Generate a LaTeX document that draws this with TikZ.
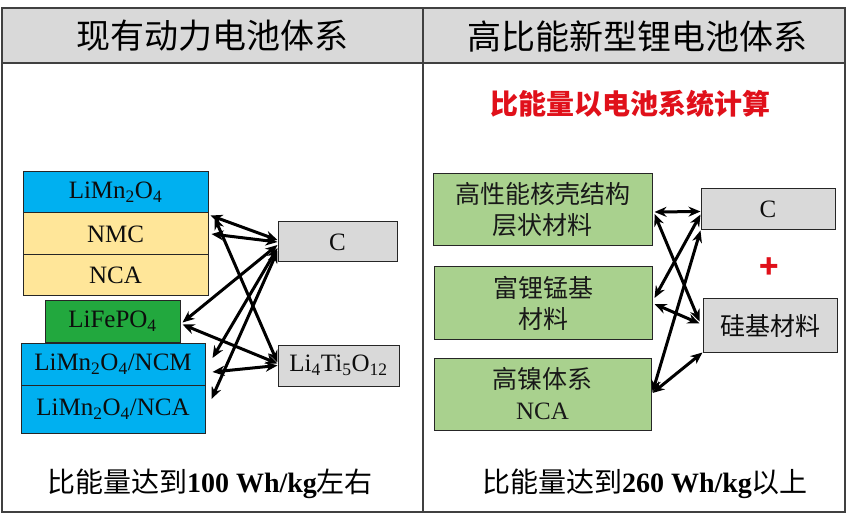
\documentclass[tikz,border=0pt]{standalone}
\usepackage{fontspec}
\setmainfont{Liberation Serif}
\newfontfamily\cjk{Noto Sans CJK SC}
\usetikzlibrary{arrows.meta,calc}
\definecolor{hdrgray}{HTML}{D9D9D9}
\definecolor{boxgray}{HTML}{D9D9D9}
\definecolor{lblue}{HTML}{00B0F0}
\definecolor{lyellow}{HTML}{FFE699}
\definecolor{dgreen}{HTML}{22A83E}
\definecolor{lgreen}{HTML}{A9D18E}
\definecolor{framec}{HTML}{404040}
\definecolor{redc}{HTML}{E0101A}
\newcommand{\sbs}[1]{\textsubscript{#1}}
\begin{document}
\begin{tikzpicture}[x=1pt,y=-1pt,
  mbox/.style={draw=black!85,line width=1pt,inner sep=0pt,
    font=\fontsize{25}{27}\selectfont,text=black!95},
  gbox/.style={mbox,fill=boxgray},
  cbox/.style={draw=black!85,line width=1pt,inner sep=0pt,fill=lgreen,
    align=center,font=\cjk\fontsize{25}{31}\selectfont,text=black!90},
  arr/.style={{Stealth[length=12pt,width=10pt]}-{Stealth[length=12pt,width=10pt]},line width=3pt},
  hdr/.style={font=\cjk\fontsize{34}{36}\selectfont},
  foot/.style={font=\fontsize{28}{30}\selectfont}]
\useasboundingbox (0,0) rectangle (848,518);
% frame and header
\fill[hdrgray] (2,8) rectangle (845,63);
\draw[framec,line width=1.5pt] (2,8) rectangle (845,512);
\draw[framec,line width=1.5pt] (2,63) -- (845,63);
\draw[framec,line width=1.5pt] (423,8) -- (423,512);
\node[hdr] (h1) at (212,36) {现有动力电池体系};
\node[hdr] (h2) at (637,36) {高比能新型锂电池体系};
% left boxes
\node[mbox,fill=lblue,minimum width=185pt,minimum height=41pt] (lmo) at (115.5,192.5) {LiMn\sbs{2}O\sbs{4}};
\node[mbox,fill=lyellow,minimum width=185pt,minimum height=42pt] (nmc) at (115.5,234) {NMC};
\node[mbox,fill=lyellow,minimum width=185pt,minimum height=41pt] (nca) at (115.5,275.5) {NCA};
\node[mbox,fill=dgreen,minimum width=135pt,minimum height=41pt] (lfp) at (112.5,321.5) {LiFePO\sbs{4}};
\node[mbox,fill=lblue,minimum width=184pt,minimum height=42pt] (ncm) at (113,364) {LiMn\sbs{2}O\sbs{4}/NCM};
\node[mbox,fill=lblue,minimum width=184pt,minimum height=48pt] (lnca) at (113,409) {LiMn\sbs{2}O\sbs{4}/NCA};
\node[gbox,minimum width=119pt,minimum height=40pt] (c1) at (337.5,242) {C};
\node[gbox,minimum width=121pt,minimum height=41pt] (lto) at (338.5,365.5) {Li\sbs{4}Ti\sbs{5}O\sbs{12}};
% left arrows
\draw[arr] ([xshift=2pt,yshift=-2pt]lmo.south east) -- ([yshift=2pt]c1.west);
\draw[arr] ([xshift=3pt,yshift=0pt]nmc.east) -- ([yshift=0pt]c1.west);
\draw[arr] ([xshift=2pt,yshift=-1pt]lfp.east) -- ([yshift=-3pt]c1.west);
\draw[arr] ([xshift=7pt,yshift=6pt]ncm.east) -- ([yshift=-6pt]c1.west);
\draw[arr] ([xshift=6pt,yshift=10pt]lnca.east) -- ([yshift=-9pt]c1.west);
\draw[arr] ([xshift=6pt,yshift=-4pt]lmo.south east) -- ([yshift=3pt]lto.west);
\draw[arr] ([xshift=2pt,yshift=-3pt]lfp.east) -- ([yshift=2pt]lto.west);
\draw[arr] ([xshift=7pt,yshift=-8pt]ncm.east) -- ([yshift=0pt]lto.west);
% right side
\node[font=\cjk\bfseries\fontsize{28}{30}\selectfont,text=redc] (title) at (630,104) {比能量以电池系统计算};
\node[cbox,minimum width=219pt,minimum height=72pt] (b1) at (542.5,210) {高性能核壳结构\\层状材料};
\node[cbox,minimum width=218pt,minimum height=72pt] (b2) at (543,303) {富锂锰基\\材料};
\node[cbox,minimum width=217pt,minimum height=72pt] (b3) at (542.5,394) {高镍体系\\{\rmfamily NCA}};
\node[gbox,minimum width=134pt,minimum height=41pt] (c2) at (768,209.5) {C};
\node[gbox,minimum width=134pt,minimum height=53pt,font=\cjk\fontsize{25}{27}\selectfont] (si) at (770,325.5) {硅基材料};
\node[font=\cjk\bfseries\fontsize{32}{32}\selectfont,text=redc] (plus) at (769,268) {+};
% right arrows
\draw[arr] ([xshift=2pt,yshift=-2pt]b1.east) -- ([yshift=-2pt]c2.west);
\draw[arr] ([xshift=2pt,yshift=-4pt]b1.east) -- ([xshift=-3pt,yshift=4pt]si.west);
\draw[arr] ([xshift=2pt,yshift=5pt]b2.east) -- ([yshift=-5pt]c2.west);
\draw[arr] ([xshift=2pt,yshift=-1pt]b2.east) -- ([xshift=-3pt,yshift=2pt]si.west);
\draw[arr] ([xshift=1pt,yshift=2pt]b3.east) -- (c2.south west);
\draw[arr] ([xshift=1pt,yshift=1pt]b3.east) -- (si.south west);
% footers
\node[foot] (f1) at (210,484) {{\cjk 比能量达到}\textbf{100 Wh/kg}{\cjk 左右}};
\node[foot] (f2) at (645,484) {{\cjk 比能量达到}\textbf{260 Wh/kg}{\cjk 以上}};
\end{tikzpicture}
\end{document}
